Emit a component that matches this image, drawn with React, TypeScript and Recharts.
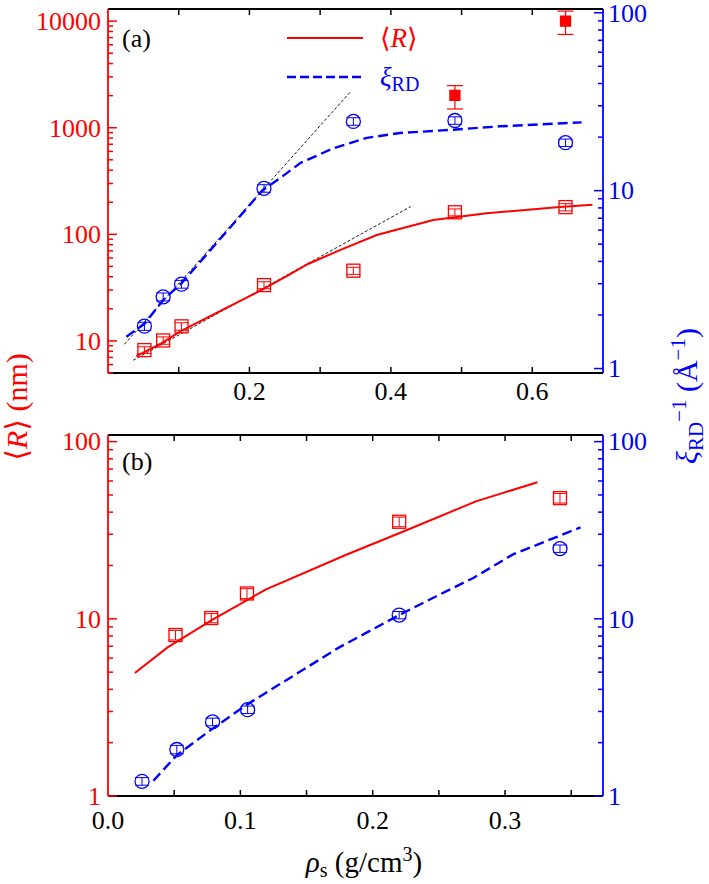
import React from 'react';
import { ComposedChart, Line, Scatter, XAxis, YAxis, ErrorBar } from 'recharts';

const RED = '#ff0000';
const BLUE = '#0000ff';
const FONT = "'Liberation Serif', 'DejaVu Serif', 'Times New Roman', serif";
const serif = { fontFamily: FONT };

// ---- panel (a) ----
const rhoA = [0.0515, 0.078, 0.104, 0.2206, 0.347, 0.4906, 0.647];
const radiusA = [8.2, 10.1, 13.7, 33.4, 45.6, 161, 180];
const radiusErrA = [0.6, 0.8, 1.1, 2.5, 3.5, 12, 14];
const xiA = [1.73, 2.53, 2.98, 10.3, 24.5, 24.8, 18.6];
const xiErrA = [0.09, 0.13, 0.15, 0.5, 1.2, 1.2, 0.9];

const rhoBig = [0.4906, 0.647];
const radiusBig = [2013, 10000];
const radiusBigErr = [[513, 470], [2500, 2420]];

const rCurveRhoA = [0.04, 0.0755, 0.1015, 0.2168, 0.2527, 0.2828, 0.328, 0.38, 0.46, 0.5356, 0.639, 0.685];
const rCurveA = [7.2, 9.5, 12.2, 30, 40.6, 52.7, 71, 98.6, 136, 158, 180, 189];
const xiCurveRhoA = [0.026, 0.052, 0.078, 0.1038, 0.219, 0.24, 0.272, 0.3186, 0.366, 0.413, 0.488, 0.554, 0.6697];
const xiCurveA = [1.51, 1.79, 2.43, 3.01, 10.1, 11.5, 14.3, 17.3, 19.8, 21.1, 22.0, 23.0, 24.2];

// exponential guides (dotted)
const xiGuideRho = [0.0232, 0.3422];
const xiGuide = [1.37, 35.7];
const rGuideRho = [0.0355, 0.428];
const rGuide = [6.58, 182];

// ---- panel (b) ----
const rhoBR = [0.051, 0.078, 0.105, 0.22, 0.3415];
const radiusB = [8.1, 10.1, 13.9, 35.3, 48];
const radiusErrB = [0.5, 0.6, 0.9, 2.2, 3];
const rhoBXi = [0.0257, 0.052, 0.079, 0.1055, 0.22, 0.3415];
const xiB = [1.21, 1.83, 2.62, 3.07, 10.5, 24.9];
const xiErrB = [0.06, 0.1, 0.13, 0.15, 0.5, 1.2];

const rCurveRhoB = [0.0203, 0.045, 0.079, 0.119, 0.18, 0.225, 0.278, 0.3245];
const rCurveB = [4.94, 6.9, 9.9, 14.6, 23, 31.5, 46, 59];
const xiCurveRhoB = [0.0343, 0.052, 0.079, 0.1055, 0.1747, 0.22, 0.2505, 0.276, 0.306, 0.357];
const xiCurveB = [1.22, 1.7, 2.4, 3.3, 6.9, 10.5, 13.7, 17.0, 23.1, 32.8];

// ticks
const xTicksA = [0.1, 0.2, 0.3, 0.4, 0.5, 0.6];
const xLabelsA = [0.2, 0.4, 0.6];
const xTicksB = [0, 0.05, 0.1, 0.15, 0.2, 0.25, 0.3, 0.35];
const xLabelsB = [0, 0.1, 0.2, 0.3];
const leftLabelsA = [10, 100, 1000, 10000];
const rightLabelsA = [1, 10, 100];
const labelsB = [1, 10, 100];

const logTicks = (lo: number, hi: number) => {
  const out: number[] = [];
  for (let e = -1; e <= 5; e++) {
    for (let m = 1; m <= 9; m++) {
      const v = Number((m * Math.pow(10, e)).toPrecision(3));
      if (v >= lo && v <= hi) out.push(v);
    }
  }
  return out;
};

const rows = (xs: number[], ys: number[], errs?: (number | number[])[]) =>
  xs.map((x, i) => ({ x, y: ys[i], err: errs ? errs[i] : 0 }));

const YTick = (props: any) => {
  const { x, y, payload, side, color, labels } = props;
  const v = payload.value;
  const major = labels.includes(v);
  const dir = side === 'left' ? 1 : -1;
  const len = major ? 9 : 5;
  return (
    <g>
      <line x1={x} y1={y} x2={x + dir * len} y2={y} stroke={color} strokeWidth={1.5} />
      {major && (
        <text
          x={side === 'left' ? x - 7 : x + 5}
          y={y}
          dy="0.34em"
          textAnchor={side === 'left' ? 'end' : 'start'}
          fill={color}
          fontSize={26}
          style={serif}
        >
          {v}
        </text>
      )}
    </g>
  );
};

const XTick = (props: any) => {
  const { x, y, payload, labels, top, offset } = props;
  const v = payload.value;
  const major = labels.includes(v);
  return (
    <g>
      {v > 0 && (
        <line x1={x} y1={y} x2={x} y2={top ? y + 6 : y - 6} stroke="#000" strokeWidth={1.5} />
      )}
      {!top && major && (
        <text x={x} y={y + offset} textAnchor="middle" fill="#000" fontSize={26} style={serif}>
          {v.toFixed(1)}
        </text>
      )}
    </g>
  );
};

const square = (color: string, filled: boolean, s: number) => (p: any) => (
  <rect
    x={p.cx - s / 2}
    y={p.cy - s / 2}
    width={s}
    height={s}
    fill={filled ? color : 'none'}
    stroke={color}
    strokeWidth={1.3}
  />
);

const circle = (p: any) => (
  <circle cx={p.cx} cy={p.cy} r={7} fill="none" stroke={BLUE} strokeWidth={1.3} />
);

const PanelA = () => (
  <ComposedChart width={709} height={413} margin={{ top: 8, right: 6, bottom: 0, left: 8 }}>
    <XAxis
      xAxisId={0}
      type="number"
      dataKey="x"
      domain={[0, 0.7]}
      ticks={xTicksA}
      interval={0}
      allowDataOverflow
      height={40}
      tickSize={0}
      tickMargin={0}
      axisLine={{ stroke: '#000', strokeWidth: 1.8 }}
      tickLine={false}
      tick={(p: any) => <XTick {...p} labels={xLabelsA} offset={27} />}
    />
    <XAxis
      xAxisId="top"
      orientation="top"
      type="number"
      dataKey="x"
      domain={[0, 0.7]}
      ticks={xTicksA}
      interval={0}
      allowDataOverflow
      height={1}
      tickSize={0}
      tickMargin={0}
      axisLine={{ stroke: '#000', strokeWidth: 1.8 }}
      tickLine={false}
      tick={(p: any) => <XTick {...p} labels={xLabelsA} top />}
    />
    <YAxis
      yAxisId="left"
      dataKey="y"
      scale="log"
      domain={[5, 13000]}
      allowDataOverflow
      ticks={logTicks(5, 13000)}
      interval={0}
      width={100}
      tickSize={0}
      tickMargin={0}
      axisLine={{ stroke: RED, strokeWidth: 1.8 }}
      tickLine={false}
      tick={(p: any) => <YTick {...p} side="left" color={RED} labels={leftLabelsA} />}
    />
    <YAxis
      yAxisId="right"
      orientation="right"
      dataKey="y"
      scale="log"
      domain={[0.944, 105]}
      allowDataOverflow
      ticks={logTicks(0.944, 105)}
      interval={0}
      width={100}
      tickSize={0}
      tickMargin={0}
      axisLine={{ stroke: BLUE, strokeWidth: 1.8 }}
      tickLine={false}
      tick={(p: any) => <YTick {...p} side="right" color={BLUE} labels={rightLabelsA} />}
    />
    <Line yAxisId="right" data={rows(xiGuideRho, xiGuide)} dataKey="y" stroke="#000" strokeWidth={0.9}
      strokeDasharray="3 2" dot={false} activeDot={false} isAnimationActive={false} />
    <Line yAxisId="left" data={rows(rGuideRho, rGuide)} dataKey="y" stroke="#000" strokeWidth={0.9}
      strokeDasharray="3 2" dot={false} activeDot={false} isAnimationActive={false} />
    <Line yAxisId="left" data={rows(rCurveRhoA, rCurveA)} dataKey="y" stroke={RED} strokeWidth={2}
      dot={false} activeDot={false} isAnimationActive={false} />
    <Line yAxisId="right" data={rows(xiCurveRhoA, xiCurveA)} dataKey="y" stroke={BLUE} strokeWidth={2.4}
      strokeDasharray="10 5" dot={false} activeDot={false} isAnimationActive={false} />
    <Scatter yAxisId="left" data={rows(rhoA, radiusA, radiusErrA)} dataKey="y" shape={square(RED, false, 13)}
      isAnimationActive={false}>
      <ErrorBar dataKey="err" direction="y" width={7} stroke={RED} strokeWidth={1} isAnimationActive={false} />
    </Scatter>
    <Scatter yAxisId="left" data={rows(rhoBig, radiusBig, radiusBigErr)} dataKey="y" shape={square(RED, true, 10)}
      isAnimationActive={false}>
      <ErrorBar dataKey="err" direction="y" width={8} stroke={RED} strokeWidth={1.2} isAnimationActive={false} />
    </Scatter>
    <Scatter yAxisId="right" data={rows(rhoA, xiA, xiErrA)} dataKey="y" shape={circle} isAnimationActive={false}>
      <ErrorBar dataKey="err" direction="y" width={7} stroke={BLUE} strokeWidth={1} isAnimationActive={false} />
    </Scatter>
  </ComposedChart>
);

const PanelB = () => (
  <ComposedChart width={709} height={464} margin={{ top: 14, right: 6, bottom: 48, left: 8 }}>
    <XAxis
      xAxisId={0}
      type="number"
      dataKey="x"
      domain={[0, 0.374]}
      ticks={xTicksB}
      interval={0}
      allowDataOverflow
      height={40}
      tickSize={0}
      tickMargin={0}
      axisLine={{ stroke: '#000', strokeWidth: 1.8 }}
      tickLine={false}
      tick={(p: any) => <XTick {...p} labels={xLabelsB} offset={33} />}
    />
    <XAxis
      xAxisId="top"
      orientation="top"
      type="number"
      dataKey="x"
      domain={[0, 0.374]}
      ticks={xTicksB}
      interval={0}
      allowDataOverflow
      height={1}
      tickSize={0}
      tickMargin={0}
      axisLine={{ stroke: '#000', strokeWidth: 1.8 }}
      tickLine={false}
      tick={(p: any) => <XTick {...p} labels={xLabelsB} top />}
    />
    <YAxis
      yAxisId="left"
      dataKey="y"
      scale="log"
      domain={[1, 109]}
      allowDataOverflow
      ticks={logTicks(1, 109)}
      interval={0}
      width={100}
      tickSize={0}
      tickMargin={0}
      axisLine={{ stroke: RED, strokeWidth: 1.8 }}
      tickLine={false}
      tick={(p: any) => <YTick {...p} side="left" color={RED} labels={labelsB} />}
    />
    <YAxis
      yAxisId="right"
      orientation="right"
      dataKey="y"
      scale="log"
      domain={[1, 109]}
      allowDataOverflow
      ticks={logTicks(1, 109)}
      interval={0}
      width={100}
      tickSize={0}
      tickMargin={0}
      axisLine={{ stroke: BLUE, strokeWidth: 1.8 }}
      tickLine={false}
      tick={(p: any) => <YTick {...p} side="right" color={BLUE} labels={labelsB} />}
    />
    <Line yAxisId="left" data={rows(rCurveRhoB, rCurveB)} dataKey="y" stroke={RED} strokeWidth={2}
      dot={false} activeDot={false} isAnimationActive={false} />
    <Line yAxisId="right" data={rows(xiCurveRhoB, xiCurveB)} dataKey="y" stroke={BLUE} strokeWidth={2.4}
      strokeDasharray="10 5" dot={false} activeDot={false} isAnimationActive={false} />
    <Scatter yAxisId="left" data={rows(rhoBR, radiusB, radiusErrB)} dataKey="y" shape={square(RED, false, 13)}
      isAnimationActive={false}>
      <ErrorBar dataKey="err" direction="y" width={7} stroke={RED} strokeWidth={1} isAnimationActive={false} />
    </Scatter>
    <Scatter yAxisId="right" data={rows(rhoBXi, xiB, xiErrB)} dataKey="y" shape={circle} isAnimationActive={false}>
      <ErrorBar dataKey="err" direction="y" width={7} stroke={BLUE} strokeWidth={1} isAnimationActive={false} />
    </Scatter>
  </ComposedChart>
);

const Annotations = () => (
  <svg width={709} height={884} style={{ position: 'absolute', left: 0, top: 0, pointerEvents: 'none', fontFamily: FONT }}>
    <text x={122} y={47} fontSize={26} fill="#000" style={serif}>(a)</text>
    <text x={122} y={470} fontSize={26} fill="#000" style={serif}>(b)</text>

    {/* legend */}
    <line x1={287} y1={38} x2={363} y2={38} stroke={RED} strokeWidth={2.2} />
    <text x={380} y={47} fontSize={27} fill={RED} style={serif}>
      ⟨<tspan fontStyle="italic">R</tspan>⟩
    </text>
    <line x1={287} y1={77} x2={363} y2={77} stroke={BLUE} strokeWidth={2.4} strokeDasharray="9 4" />
    <text x={380} y={86} fontSize={27} fill={BLUE} style={serif}>
      <tspan fontStyle="italic">ξ</tspan>
      <tspan fontSize={20} dy={5}>RD</tspan>
    </text>

    {/* axis titles */}
    <text transform="translate(27, 407) rotate(-90)" textAnchor="middle" fontSize={30} fill={RED} style={serif}>
      ⟨<tspan fontStyle="italic">R</tspan>⟩ (nm)
    </text>
    <text transform="translate(697, 396) rotate(-90)" textAnchor="middle" fontSize={30} fill={BLUE} style={serif}>
      <tspan fontStyle="italic">ξ</tspan>
      <tspan fontSize={21} dy={6}>RD</tspan>
      <tspan fontSize={21} dy={-17}>−1</tspan>
      <tspan dy={11}> (Å</tspan>
      <tspan fontSize={21} dy={-12}>−1</tspan>
      <tspan dy={12}>)</tspan>
    </text>
    <text x={364} y={872} textAnchor="middle" fontSize={29} fill="#000" style={serif}>
      <tspan fontStyle="italic">ρ</tspan>
      <tspan fontSize={20} dy={5}>s</tspan>
      <tspan dy={-5}> (g/cm</tspan>
      <tspan fontSize={20} dy={-11}>3</tspan>
      <tspan dy={11}>)</tspan>
    </text>
  </svg>
);

export default function App() {
  return (
    <div style={{ position: 'absolute', left: 0, top: 0, width: 709, height: 884, background: '#fff', fontFamily: FONT }}>
      <div style={{ position: 'absolute', left: 0, top: 0 }}>
        <PanelA />
      </div>
      <div style={{ position: 'absolute', left: 0, top: 420 }}>
        <PanelB />
      </div>
      <Annotations />
    </div>
  );
}
